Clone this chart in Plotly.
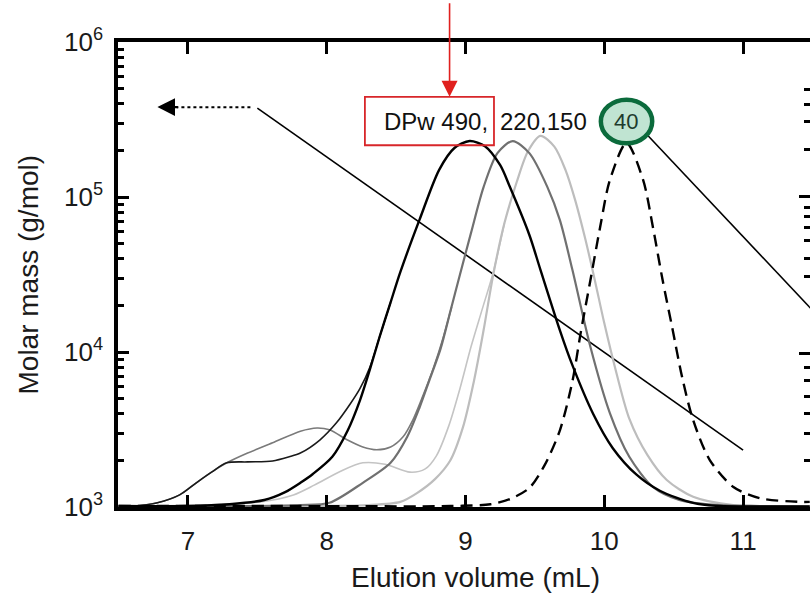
import plotly.graph_objects as go

# ---------------- data ----------------
# chromatogram signals (normalised detector response, right axis 0..1)
black_x = [6.50, 7.00, 7.30, 7.55, 7.70, 7.81, 7.90, 8.04, 8.15, 8.24, 8.31, 8.38, 8.46, 8.53, 8.67,
           8.81, 8.92, 9.03, 9.14, 9.25, 9.32, 9.46, 9.54, 9.68, 9.77, 9.92, 10.06, 10.23, 10.40,
           10.64, 10.83, 11.12, 11.48]
black_y = [0.002, 0.002, 0.006, 0.015, 0.032, 0.052, 0.071, 0.108, 0.164, 0.230, 0.295, 0.365, 0.440,
           0.505, 0.619, 0.725, 0.772, 0.787, 0.776, 0.735, 0.688, 0.585, 0.510, 0.380, 0.305, 0.200,
           0.127, 0.070, 0.035, 0.009, 0.002, 0.001, 0.001]

black_sh_x = [6.58, 6.78, 6.94, 7.06, 7.17, 7.28, 7.43, 7.61, 7.73, 7.81, 7.95, 8.07, 8.17, 8.24, 8.31,
              8.38, 8.46]
black_sh_y = [0.000, 0.009, 0.026, 0.052, 0.075, 0.095, 0.097, 0.099, 0.108, 0.116, 0.144, 0.181,
              0.222, 0.255, 0.300, 0.365, 0.440]

gray_x = [6.50, 7.45, 7.81, 8.02, 8.26, 8.46, 8.58, 8.67, 8.74, 8.82, 8.89, 8.96, 9.04, 9.13, 9.23,
          9.34, 9.46, 9.59, 9.68, 9.77, 9.90, 10.04, 10.18, 10.35, 10.54, 10.83, 11.12, 11.48]
gray_y = [0.001, 0.002, 0.004, 0.009, 0.052, 0.095, 0.151, 0.215, 0.273, 0.340, 0.420, 0.500, 0.590,
          0.688, 0.761, 0.787, 0.761, 0.688, 0.617, 0.510, 0.344, 0.202, 0.108, 0.043, 0.015, 0.004,
          0.002, 0.001]

gray_sh_x = [6.50, 6.58, 6.78, 6.94, 7.06, 7.17, 7.28, 7.43, 7.61, 7.81, 7.93, 8.02, 8.15, 8.26, 8.36,
             8.46, 8.55, 8.62, 8.69, 8.77, 8.84, 8.90]
gray_sh_y = [0.000, 0.001, 0.009, 0.026, 0.052, 0.075, 0.095, 0.116, 0.138, 0.163, 0.170, 0.166, 0.144,
             0.129, 0.123, 0.129, 0.151, 0.187, 0.237, 0.300, 0.365, 0.430]

light_x = [6.50, 7.81, 8.29, 8.53, 8.65, 8.78, 8.89, 8.98, 9.06, 9.13, 9.20, 9.28, 9.37, 9.45, 9.54,
           9.64, 9.72, 9.79, 9.86, 9.93, 10.00, 10.09, 10.18, 10.31, 10.45, 10.64, 10.93, 11.19, 11.48]
light_y = [0.001, 0.002, 0.004, 0.011, 0.030, 0.060, 0.100, 0.170, 0.270, 0.380, 0.500, 0.610, 0.700,
           0.765, 0.798, 0.775, 0.725, 0.660, 0.580, 0.490, 0.395, 0.285, 0.190, 0.112, 0.058, 0.022,
           0.004, 0.002, 0.001]

light_sh_x = [6.50, 7.09, 7.52, 7.76, 7.91, 8.10, 8.26, 8.42, 8.60, 8.71, 8.79, 8.88, 8.96, 9.04, 9.12,
              9.20, 9.28]
light_sh_y = [0.002, 0.004, 0.011, 0.026, 0.047, 0.077, 0.095, 0.092, 0.075, 0.082, 0.110, 0.175,
              0.255, 0.345, 0.425, 0.505, 0.610]

dash_x = [6.50, 7.81, 8.89, 9.18, 9.32, 9.46, 9.57, 9.68, 9.77, 9.83, 9.90, 9.97, 10.04, 10.16, 10.28,
          10.35, 10.42, 10.49, 10.56, 10.64, 10.76, 10.93, 11.12, 11.41, 11.48]
dash_y = [0.002, 0.002, 0.002, 0.006, 0.017, 0.041, 0.090, 0.165, 0.270, 0.375, 0.488, 0.602, 0.703,
          0.783, 0.703, 0.602, 0.488, 0.385, 0.280, 0.187, 0.101, 0.043, 0.019, 0.011, 0.011]

# molar-mass calibration line (left log axis)
calib_x = [7.50, 11.00]
calib_y = [3.75e5, 2.33e3]

# line leaving the "40" label
lead_x = [10.31, 11.62]
lead_y = [2.51e5, 1.43e4]

# dotted arrow shaft
arrow_x = [7.45, 6.92]
arrow_y = [3.8e5, 3.8e5]

x_ticks = [7, 8, 9, 10, 11]
y_ticks = [1e3, 1e4, 1e5, 1e6]
y_ticktext = ["10<sup>3</sup>", "10<sup>4</sup>", "10<sup>5</sup>", "10<sup>6</sup>"]
y_minor = [k * 10 ** e for e in (3, 4, 5) for k in range(2, 10)]
r_major = [0.331, 0.667]
r_minor = [0.897, 0.865, 0.828, 0.768, 0.645, 0.624, 0.602, 0.574, 0.535, 0.495,
           0.301, 0.273, 0.237, 0.202, 0.159, 0.101]

FONT = "Liberation Sans, Arial, Helvetica, sans-serif"

fig = go.Figure()

def sig(x, y, color, width, dash="solid"):
    fig.add_trace(go.Scatter(x=x, y=y, yaxis="y2", mode="lines",
                             line=dict(color=color, width=width, dash=dash, shape="spline", smoothing=0.8),
                             showlegend=False, hoverinfo="skip"))

sig(light_sh_x, light_sh_y, "#c4c4c4", 1.6)
sig(light_x, light_y, "#bdbdbd", 2.2)
sig(gray_sh_x, gray_sh_y, "#7a7a7a", 1.6)
sig(gray_x, gray_y, "#707070", 2.2)
sig(black_sh_x, black_sh_y, "#1a1a1a", 1.6)
sig(black_x, black_y, "#000000", 2.4)
sig(dash_x, dash_y, "#000000", 2.4, dash="12px,7px")

fig.add_trace(go.Scatter(x=calib_x, y=calib_y, mode="lines", line=dict(color="#000", width=1.6),
                         showlegend=False, hoverinfo="skip"))
fig.add_trace(go.Scatter(x=lead_x, y=lead_y, mode="lines", line=dict(color="#000", width=1.6),
                         showlegend=False, hoverinfo="skip"))
fig.add_trace(go.Scatter(x=arrow_x, y=arrow_y, mode="lines", line=dict(color="#000", width=2, dash="dot"),
                         showlegend=False, hoverinfo="skip"))

# ---- annotations / shapes ----
anns = []
# dotted arrow head (linear y2 coordinates)
anns.append(dict(x=6.78, y=0.860, xref="x", yref="y2", ax=22, ay=0, axref="pixel", ayref="pixel",
                 showarrow=True, arrowhead=2, arrowsize=1.6, arrowwidth=2.2, arrowcolor="#000", text=""))
# red arrow
anns.append(dict(x=8.885, y=0.882, xref="x", yref="y2", ax=0, ay=-95, showarrow=True,
                 arrowhead=2, arrowsize=2.0, arrowwidth=1.6, arrowcolor="#e0201e", text=""))
# DPw text
anns.append(dict(x=8.395, y=0.830, xref="x", yref="y2", xanchor="left", yanchor="middle",
                 text="DPw 490,", showarrow=False, font=dict(family=FONT, size=24, color="#111")))
anns.append(dict(x=9.232, y=0.830, xref="x", yref="y2", xanchor="left", yanchor="middle",
                 text="220,150", showarrow=False, font=dict(family=FONT, size=24, color="#111")))
anns.append(dict(x=10.156, y=0.828, xref="x", yref="y2", xanchor="center", yanchor="middle",
                 text="40", showarrow=False, font=dict(family=FONT, size=22, color="#1d3b2d")))
# axis titles
anns.append(dict(x=(475 - 118) / 692, y=-(577 - 507) / 465, xref="paper", yref="paper", xanchor="center",
                 yanchor="middle", text="Elution volume (mL)", showarrow=False,
                 font=dict(family=FONT, size=28, color="#1a1a1a")))
anns.append(dict(x=(28 - 118) / 692, y=0.5, xref="paper", yref="paper", xanchor="center",
                 yanchor="middle", text="Molar mass (g/mol)", textangle=-90, showarrow=False,
                 font=dict(family=FONT, size=28, color="#1a1a1a")))

shapes = [
    dict(type="rect", xref="x", yref="y2", x0=8.275, x1=9.205, y0=0.778, y1=0.882,
         line=dict(color="#d8262a", width=1.8), fillcolor="rgba(0,0,0,0)", layer="above"),
    dict(type="circle", xref="x", yref="y2", x0=9.975, x1=10.345, y0=0.782, y1=0.876,
         line=dict(color="#0b6b3c", width=4.5), fillcolor="#c0e4d2", layer="above"),
]

fig.update_layout(
    width=810, height=595,
    margin=dict(l=118, r=0, t=42, b=88, autoexpand=False),
    paper_bgcolor="white", plot_bgcolor="white",
    font=dict(family=FONT, size=26, color="#1a1a1a"),
    annotations=anns, shapes=shapes,
    xaxis=dict(range=[6.496, 11.482], tickvals=x_ticks, ticks="inside", ticklen=12, tickwidth=3,
               tickcolor="#000", showline=True, linewidth=3.5, linecolor="#000", mirror="ticks",
               showgrid=False, zeroline=False, tickfont=dict(size=26, color="#1a1a1a"),
               ticklabelstandoff=8, automargin=False),
    yaxis=dict(type="log", range=[3, 6], tickvals=y_ticks, ticktext=y_ticktext, ticks="inside",
               ticklen=11, tickwidth=3, tickcolor="#000", showline=True, linewidth=3.5, linecolor="#000",
               showgrid=False, zeroline=False, tickfont=dict(size=26, color="#1a1a1a"), automargin=False,
               ticklabelstandoff=6,
               minor=dict(tickvals=y_minor, ticks="inside", ticklen=6, tickwidth=2.5, tickcolor="#000",
                          showgrid=False)),
    yaxis2=dict(overlaying="y", side="right", range=[0, 1], showticklabels=False, tickvals=r_major,
                ticks="inside", ticklen=11, tickwidth=3, tickcolor="#000", showline=False,
                showgrid=False, zeroline=False, automargin=False,
                minor=dict(tickvals=r_minor, ticks="inside", ticklen=6, tickwidth=2.5, tickcolor="#000",
                           showgrid=False)),
)

fig.write_html("out.html", config={"displayModeBar": False},
               post_script="document.body.style.margin='0';document.body.style.overflow='hidden';")
